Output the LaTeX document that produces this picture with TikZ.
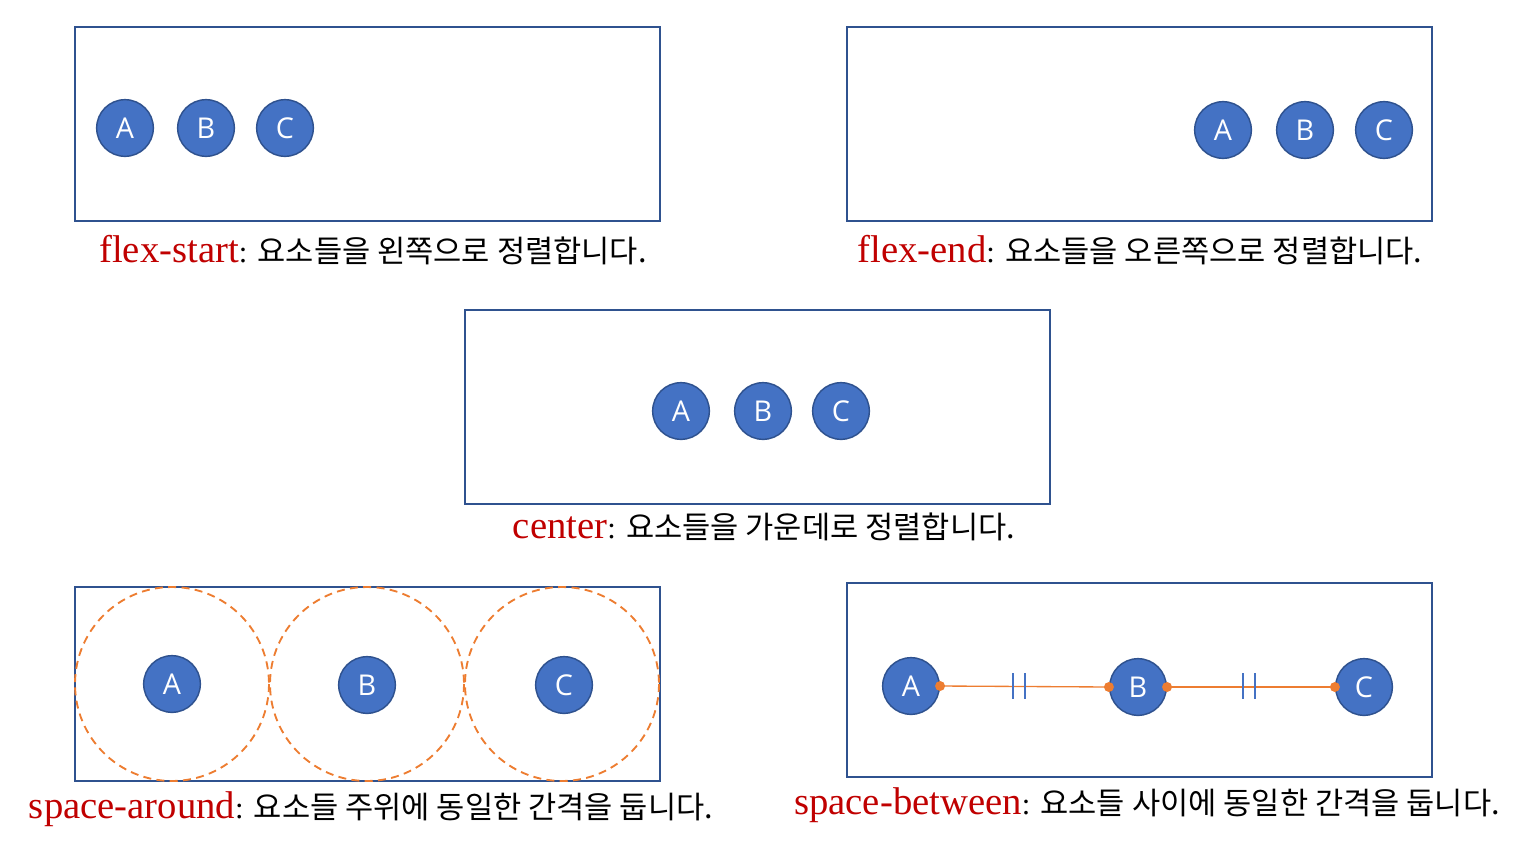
\documentclass[tikz,border=0pt]{standalone}
\usepackage{fontspec}
\setmainfont{Liberation Serif}
\newfontfamily\krfont{Noto Sans CJK KR}
\newfontfamily\letterfont{Open Sans}
\definecolor{boxline}{RGB}{47,82,143}
\definecolor{itemfill}{RGB}{68,114,196}
\definecolor{gapline}{RGB}{237,125,49}
\definecolor{propred}{RGB}{192,0,0}
\newcommand{\prop}[1]{{\color{propred}\fontsize{29}{32}\selectfont #1}}
\newcommand{\desc}[1]{{\krfont #1}}
\tikzset{every picture/.style={line width=0.75pt}}

\begin{document}
\begin{tikzpicture}[x=0.75pt,y=0.75pt,yscale=-1,
	item/.style={circle, draw=boxline, fill=itemfill, line width=1.1pt, minimum size=42.5pt, inner sep=0pt, text=white, font=\letterfont\fontsize{21.5}{24}\selectfont},
	flexbox/.style={draw=boxline, line width=1.5pt},
	around/.style={draw=gapline, dash pattern=on 6pt off 4pt, line width=1.4pt},
	caption/.style={font=\fontsize{23}{27}\selectfont, inner sep=0pt}]
	\useasboundingbox (0,0) rectangle (1522,847);

	%Shape: Rectangle [flex-start]
	\draw [flexbox] (75,27) rectangle (660,221);
	\node [item] (fsA) at (125,128) {A};
	\node [item] (fsB) at (206,128) {B};
	\node [item] (fsC) at (285,128) {C};
	% Text Node
	\node [caption] (fsText) at (373,250) {\prop{flex-start}: \desc{요소들을 왼쪽으로 정렬합니다.}};

	%Shape: Rectangle [flex-end]
	\draw [flexbox] (847,27) rectangle (1432,221);
	\node [item] (feA) at (1223,130) {A};
	\node [item] (feB) at (1305,130) {B};
	\node [item] (feC) at (1384,130) {C};
	% Text Node
	\node [caption] (feText) at (1140,250) {\prop{flex-end}: \desc{요소들을 오른쪽으로 정렬합니다.}};

	%Shape: Rectangle [center]
	\draw [flexbox] (465,310) rectangle (1050,504);
	\node [item] (ceA) at (681,411) {A};
	\node [item] (ceB) at (763,411) {B};
	\node [item] (ceC) at (841,411) {C};
	% Text Node
	\node [caption] (ceText) at (764,527) {\prop{center}: \desc{요소들을 가운데로 정렬합니다.}};

	%Shape: Rectangle [space-around]
	\draw [flexbox] (75,587) rectangle (660,781);
	\draw [around] (172,684) circle [radius=97];
	\draw [around] (367,684) circle [radius=97];
	\draw [around] (562,684) circle [radius=97];
	\node [item] (saA) at (172,684) {A};
	\node [item] (saB) at (367,685) {B};
	\node [item] (saC) at (564,685) {C};
	% Text Node
	\node [caption] (saText) at (371,809) {\prop{space-around}: \desc{요소들 주위에 동일한 간격을 둡니다.}};

	%Shape: Rectangle [space-between]
	\draw [flexbox] (847,583) rectangle (1432,777);
	\node [item] (sbA) at (911,686) {A};
	\node [item] (sbB) at (1138,687) {B};
	\node [item] (sbC) at (1364,687) {C};
	%Straight Lines
	\draw [gapline, line width=1pt] (sbA.east) -- (sbB.west);
	\draw [gapline, line width=1pt] (sbB.east) -- (sbC.west);
	\fill [gapline] (sbA.east) circle [radius=5] (sbB.west) circle [radius=5] (sbB.east) circle [radius=5] (sbC.west) circle [radius=5];
	%Straight Lines [gap marks]
	\draw [itemfill, line width=1pt] (1013,673) -- (1013,699) (1025,673) -- (1025,699);
	\draw [itemfill, line width=1pt] (1243,673) -- (1243,699) (1255,673) -- (1255,699);
	% Text Node
	\node [caption] (sbText) at (1147,805) {\prop{space-between}: \desc{요소들 사이에 동일한 간격을 둡니다.}};

\end{tikzpicture}
\end{document}
